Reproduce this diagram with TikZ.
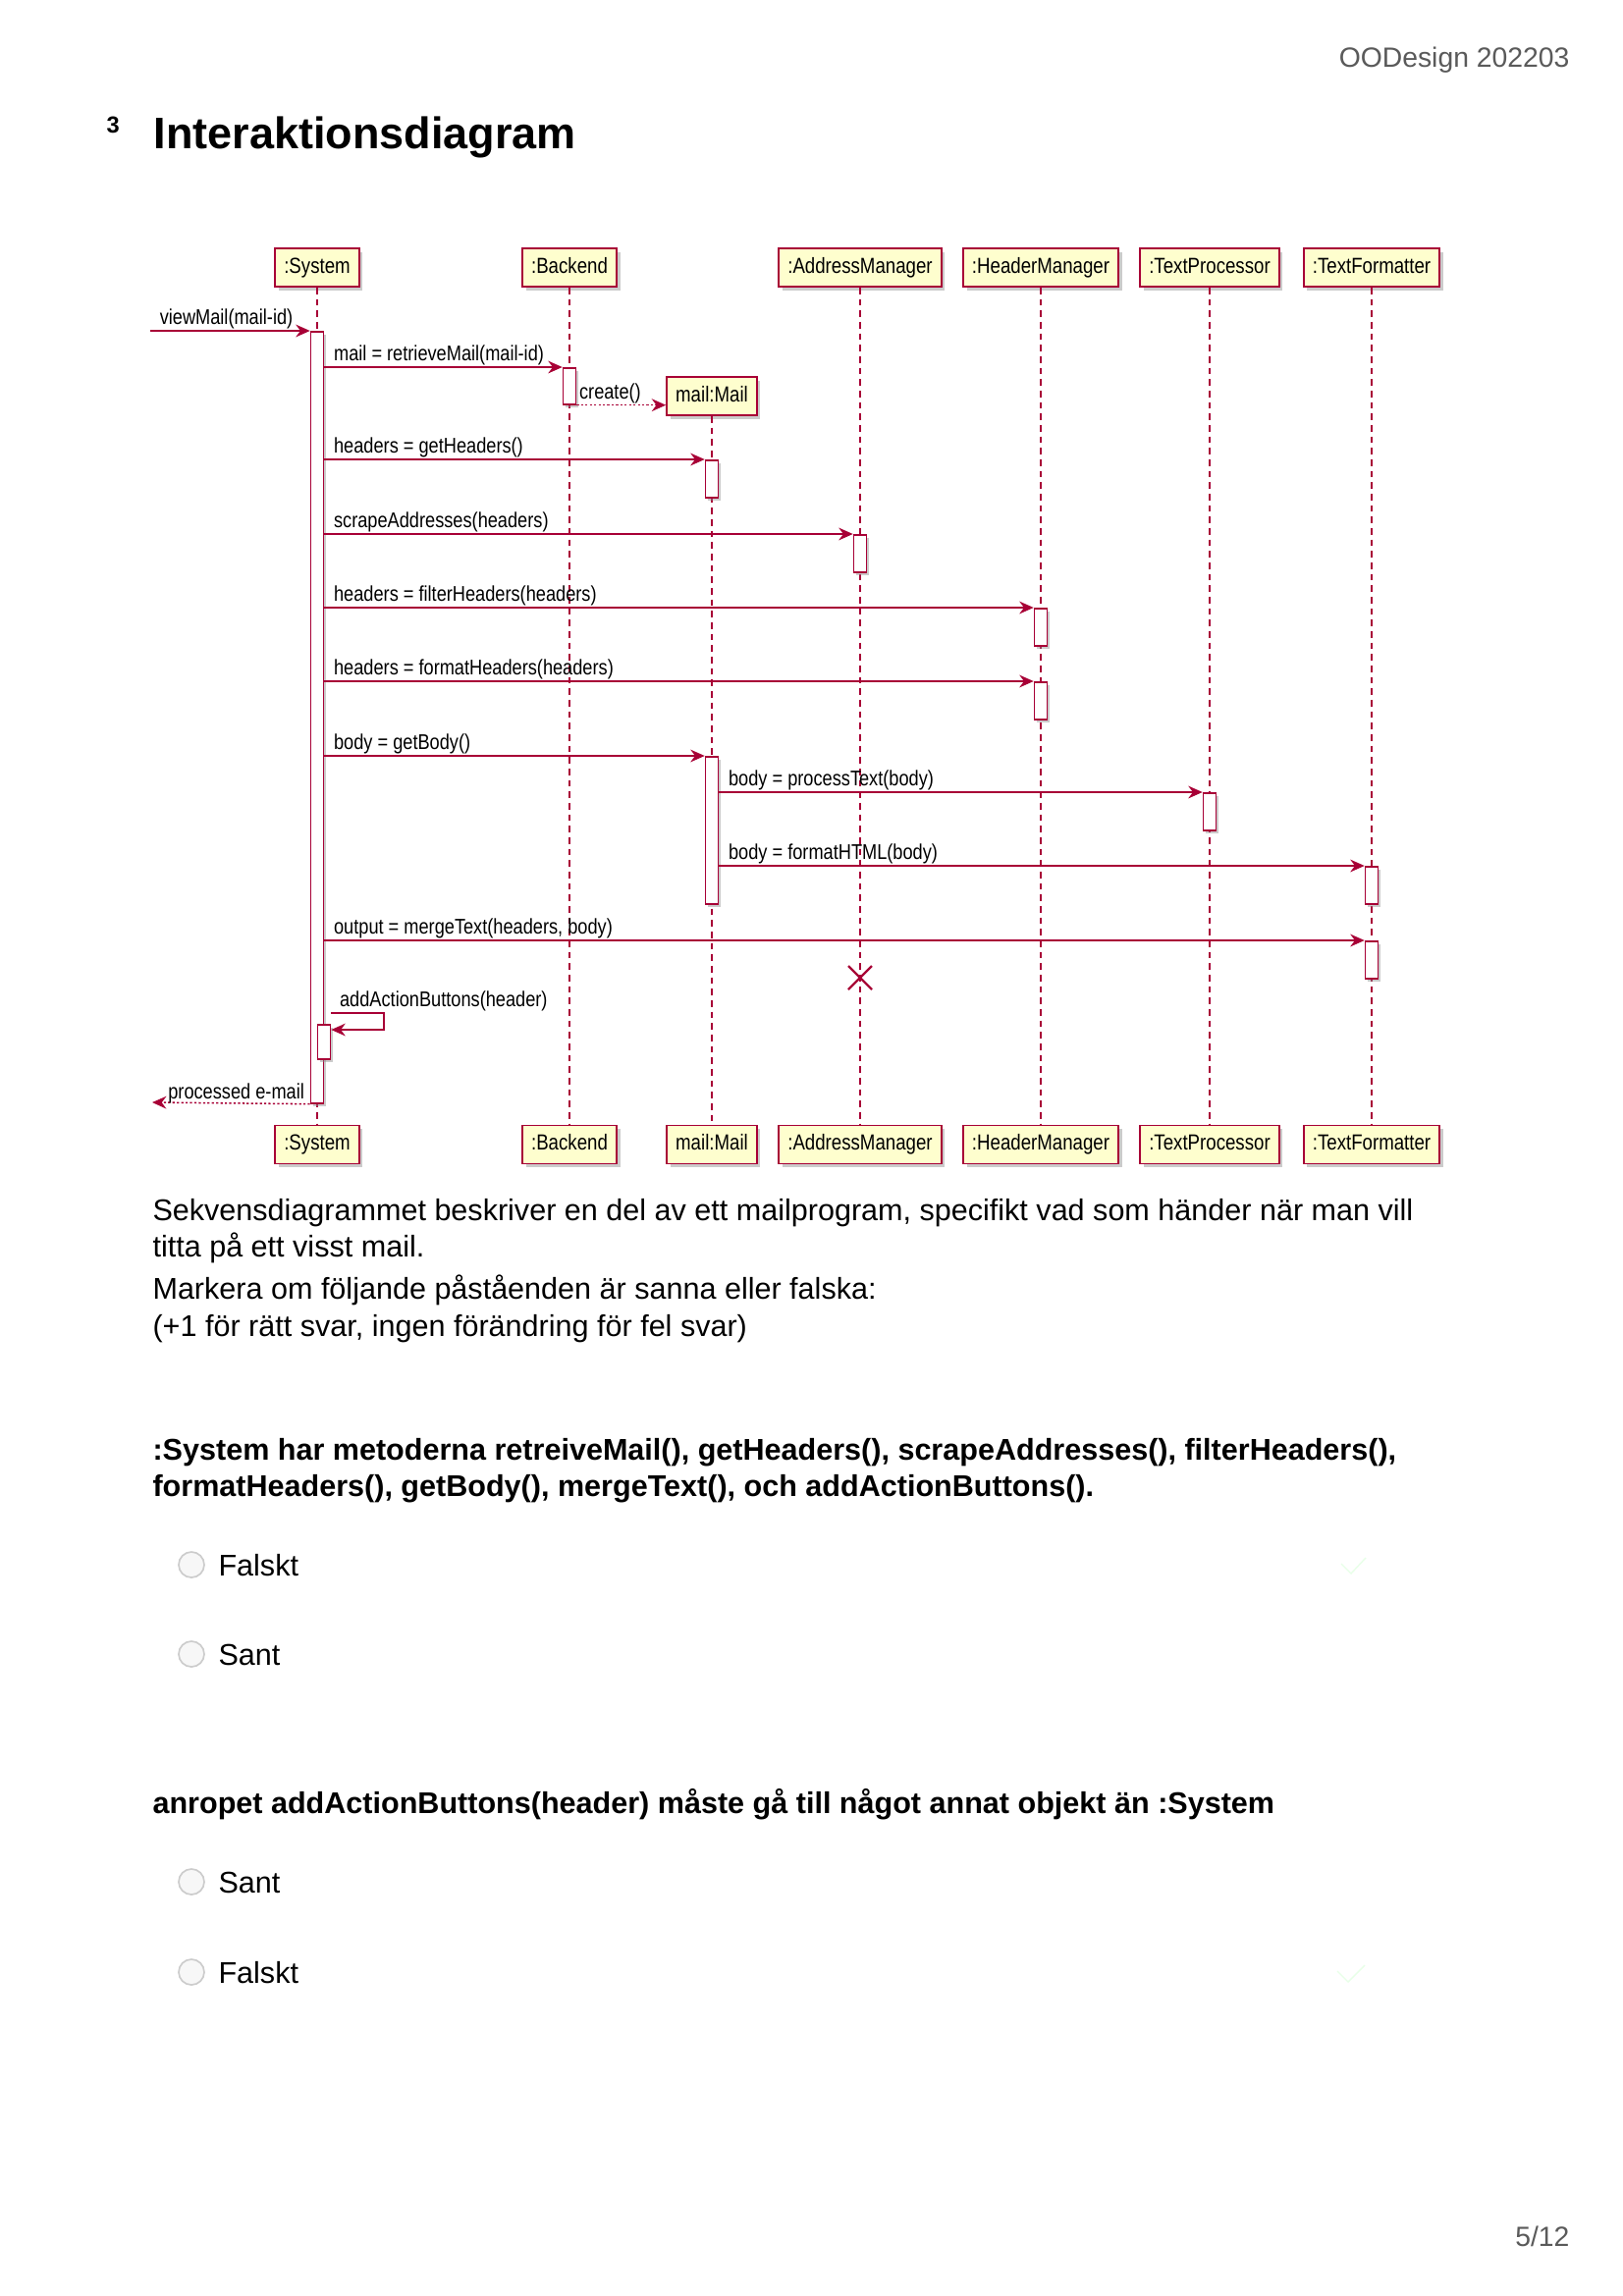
\documentclass[tikz,border=0pt]{standalone}
\usepackage{fontspec}
\setmainfont{Liberation Sans}
\newfontfamily\umlfont[FakeStretch=0.84]{Liberation Sans}
\usetikzlibrary{arrows.meta,shadows}

\definecolor{umlred}{HTML}{A80036}
\definecolor{umlfill}{HTML}{FEFECE}
\definecolor{pagegray}{HTML}{5A5A5A}
\newcommand\px{0.36pt}

\tikzset{
  part/.style={draw=umlred, fill=umlfill, line width=0.7pt, minimum height=39*\px,
    inner xsep=9*\px, inner ysep=0pt, text height=5.6pt, text depth=1.5pt,
    font=\umlfont\fontsize{8}{9}\selectfont,
    drop shadow={shadow xshift=1.3pt, shadow yshift=-1.3pt, fill=black!45, opacity=.45}},
  life/.style={draw=umlred, line width=0.45pt, dash pattern=on 2.4pt off 1.8pt},
  act/.style={draw=umlred, fill=white, line width=0.6pt, anchor=north,
    minimum width=13*\px, inner sep=0pt,
    drop shadow={shadow xshift=1pt, shadow yshift=-1pt, fill=black!45, opacity=.45}},
  msg/.style={draw=umlred, line width=0.55pt, -{Stealth[length=5.2pt,width=4.6pt,inset=1.7pt]}},
  ret/.style={msg, dash pattern=on 0.8pt off 0.8pt},
  lbl/.style={font=\umlfont\fontsize{7.8}{9}\selectfont, anchor=base west, inner sep=0pt,
    pos=0, xshift=9*\px, yshift=7*\px},
  txt/.style={anchor=base west, inner sep=0pt, font=\fontsize{11}{13.5}\selectfont},
  qtxt/.style={txt, font=\bfseries\fontsize{11}{13.5}\selectfont},
  radio/.style={circle, draw=black!20, fill=black!3, line width=0.6pt, minimum size=26*\px, inner sep=0pt}
}

\begin{document}
\begin{tikzpicture}[x=0.36pt,y=-0.36pt]
\useasboundingbox[fill=white] (0,0) rectangle (1653,2339);

% page head
\node[anchor=base east, inner sep=0pt, text=pagegray, font=\fontsize{10.2}{12}\selectfont] (head) at (1599,68) {OODesign 202203};
\node[anchor=base west, inner sep=0pt, font=\bfseries\fontsize{8.5}{10}\selectfont] (secnum) at (108,135) {3};
\node[anchor=base west, inner sep=0pt, font=\bfseries\fontsize{16.2}{19}\selectfont] (title) at (156,151) {Interaktionsdiagram};

% participants
\node[part] (sysT) at (323,272.5) {:System};
\node[part] (bkT) at (580,272.5) {:Backend};
\node[part] (mailT) at (725,403.5) {mail:Mail};
\node[part] (addrT) at (876,272.5) {:AddressManager};
\node[part] (hdrT) at (1060,272.5) {:HeaderManager};
\node[part] (tpT) at (1232,272.5) {:TextProcessor};
\node[part] (tfT) at (1397,272.5) {:TextFormatter};

\node[part] (sysB) at (323,1166) {:System};
\node[part] (bkB) at (580,1166) {:Backend};
\node[part] (mailB) at (725,1166) {mail:Mail};
\node[part] (addrB) at (876,1166) {:AddressManager};
\node[part] (hdrB) at (1060,1166) {:HeaderManager};
\node[part] (tpB) at (1232,1166) {:TextProcessor};
\node[part] (tfB) at (1397,1166) {:TextFormatter};

\foreach \p in {sys,bk,mail,addr,hdr,tp,tf}
  \draw[life] (\p T) -- (\p B);

% activations
\node[act, minimum height=786*\px] (sysAct) at (323,337) {};
\node[act, minimum height=37*\px] (bkAct) at (580,374) {};
\node[act, minimum height=38*\px] (mailAct1) at (725,468) {};
\node[act, minimum height=38*\px] (addrAct) at (876,544) {};
\node[act, minimum height=38*\px] (hdrAct1) at (1060,619) {};
\node[act, minimum height=38*\px] (hdrAct2) at (1060,694) {};
\node[act, minimum height=150*\px] (mailAct2) at (725,770) {};
\node[act, minimum height=38*\px] (tpAct) at (1232,807) {};
\node[act, minimum height=38*\px] (tfAct1) at (1397,882) {};
\node[act, minimum height=38*\px] (tfAct2) at (1397,958) {};
\node[act, minimum height=35*\px] (selfAct) at (330,1043) {};

% messages
\coordinate (gate) at (153,337);
\coordinate (exit) at (155,1123);
\coordinate (loopTop) at (391,1032);
\coordinate (addrEnd) at (876,996);

\draw[msg] (gate) -- node[lbl] {viewMail(mail-id)} (sysAct.north west);
\draw[msg] (sysAct.east |- bkAct.north) -- node[lbl] {mail = retrieveMail(mail-id)} (bkAct.north west);
\draw[ret] (bkAct.south east) -- node[lbl, xshift=-7*\px, yshift=-1*\px] {create()} (mailT.west |- bkAct.south);
\draw[msg] (sysAct.east |- mailAct1.north) -- node[lbl] {headers = getHeaders()} (mailAct1.north west);
\draw[msg] (sysAct.east |- addrAct.north) -- node[lbl] {scrapeAddresses(headers)} (addrAct.north west);
\draw[msg] (sysAct.east |- hdrAct1.north) -- node[lbl] {headers = filterHeaders(headers)} (hdrAct1.north west);
\draw[msg] (sysAct.east |- hdrAct2.north) -- node[lbl] {headers = formatHeaders(headers)} (hdrAct2.north west);
\draw[msg] (sysAct.east |- mailAct2.north) -- node[lbl] {body = getBody()} (mailAct2.north west);
\draw[msg] (mailAct2.east |- tpAct.north) -- node[lbl] {body = processText(body)} (tpAct.north west);
\draw[msg] (mailAct2.east |- tfAct1.north) -- node[lbl] {body = formatHTML(body)} (tfAct1.north west);
\draw[msg] (sysAct.east |- tfAct2.north) -- node[lbl] {output = mergeText(headers, body)} (tfAct2.north west);
\draw[msg] (selfAct.east |- loopTop) -- node[lbl, xshift=-1*\px] {addActionButtons(header)} (loopTop) |- (selfAct.east |- 0,1049);
\draw[ret] (sysAct.south west) -- node[lbl, anchor=base east, xshift=-14*\px, yshift=-2*\px] {processed e-mail} (exit);

% destroy
\draw[umlred, line width=0.8pt] (addrEnd) +(-12,-12) -- +(12,12) (addrEnd) +(-12,12) -- +(12,-12);

% text below
\node[txt] (p1) at (155,1243) {Sekvensdiagrammet beskriver en del av ett mailprogram, specifikt vad som händer när man vill};
\node[txt] (p2) at (155,1280) {titta på ett visst mail.};
\node[txt] (p3) at (155,1323) {Markera om följande påståenden är sanna eller falska:};
\node[txt] (p4) at (155,1361) {(+1 för rätt svar, ingen förändring för fel svar)};

\node[qtxt] (q1a) at (155,1487) {:System har metoderna retreiveMail(), getHeaders(), scrapeAddresses(), filterHeaders(),};
\node[qtxt] (q1b) at (155,1524) {formatHeaders(), getBody(), mergeText(), och addActionButtons().};
\node[radio] (r1) at (195,1594) {};
\node[txt] (o1) at (222,1605) {Falskt};
\node[radio] (r2) at (195,1685) {};
\node[txt] (o2) at (222,1696) {Sant};

\node[qtxt] (q2) at (155,1847) {anropet addActionButtons(header) måste gå till något annat objekt än :System};
\node[radio] (r3) at (195,1917) {};
\node[txt] (o3) at (222,1928) {Sant};
\node[radio] (r4) at (195,2009) {};
\node[txt] (o4) at (222,2020) {Falskt};

% faint check marks
\draw[green!9, line width=0.5pt] (1366,1593) -- (1376,1603) -- (1391,1587);
\draw[green!9, line width=0.5pt] (1362,2008) -- (1373,2019) -- (1390,2002);

\node[anchor=base east, inner sep=0pt, text=pagegray, font=\fontsize{10.2}{12}\selectfont] (pageno) at (1599,2288) {5/12};
\end{tikzpicture}
\end{document}
